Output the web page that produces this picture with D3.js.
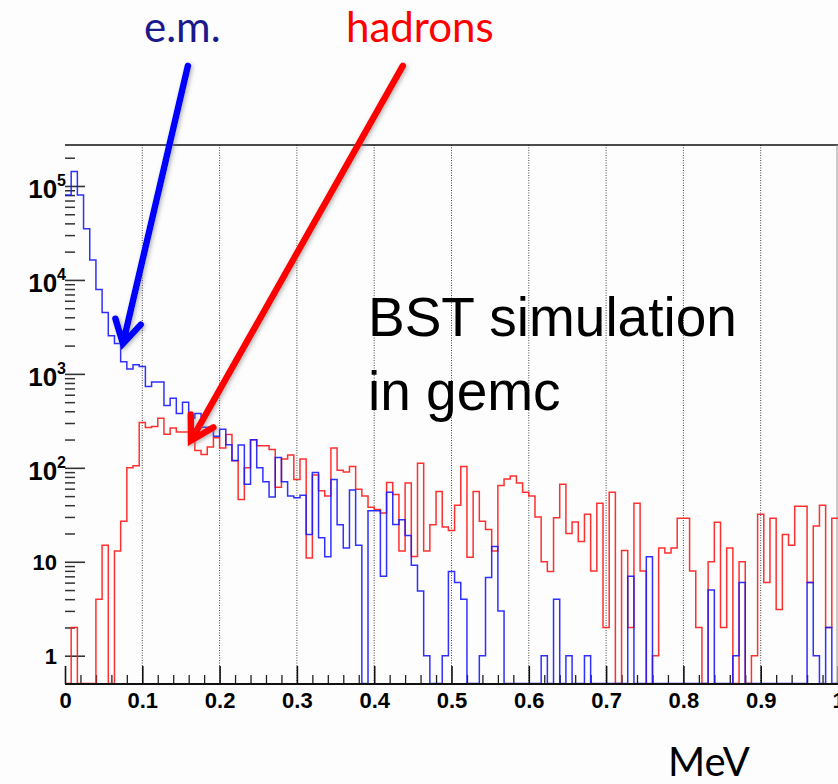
<!DOCTYPE html>
<html>
<head>
<meta charset="utf-8">
<script src="https://cdn.jsdelivr.net/npm/d3@7"></script>
<style>
  html, body { margin: 0; padding: 0; background: #fcfdfc; }
  svg { display: block; }
</style>
</head>
<body>
<div id="chart"></div>
<script>
// Energy deposit histograms, bins of 0.008 MeV starting at 0
var BIN_WIDTH = 0.008;

// e.m. (blue) counts per bin
var emCounts = [
    80000, 143000, 80000, 35000, 16300, 7900, 4500, 2550, 2100, 1350,
    1130, 1250, 1200, 735, 820, 820, 462, 550, 379, 499,
    339, 379, 270, 270, 217, 258, 176, 120, 175, 67,
    199, 100, 71, 49, 129, 71, 50, 48, 51, 19.5,
    89, 18, 11.3, 75, 24.8, 14, 58, 15, 0, 35,
    35, 7, 55, 25, 28, 19, 9.2, 4.9, 1, 0,
    0, 1, 7.9, 6, 4, 0, 0, 1, 6.8, 14.5,
    3, 0, 0, 0, 0, 0, 0, 1, 0, 4,
    0, 1, 0, 0, 1, 0, 0, 0, 0, 0,
    0, 7, 0, 0, 11.3, 0, 0, 0, 0, 0,
    0, 0, 0, 0, 5, 0, 0, 0, 1, 6,
    0, 0, 0, 0, 0, 0, 0, 0, 0, 0,
    6, 1, 0, 2, 0
];

// hadron (red) counts per bin
var hadronCounts = [
    0, 2, 0, 0, 0, 4, 15, 0, 13, 27,
    100, 105, 303, 268, 275, 337, 228, 265, 240, 240,
    196, 153, 139, 167, 209, 163, 226, 119, 46, 100,
    199, 172, 172, 157, 62, 124, 137, 75, 124, 11,
    84, 57, 50, 163, 94, 90, 103, 59, 50, 38,
    36, 33, 70, 52, 13, 69, 11.4, 112, 13, 24.8,
    56, 23.5, 21.5, 40, 103, 11.2, 56, 27, 22, 13,
    65, 76, 82, 69, 55, 50, 30, 10, 7.9, 29.5,
    67, 20, 26.5, 16.4, 32, 8, 42, 2, 55, 0,
    13.2, 2, 42, 8, 0, 1, 14, 12.4, 14, 29,
    29, 8, 2, 0, 10, 26.3, 2, 14, 0, 10,
    0, 1, 32, 6, 29, 3.1, 19.5, 15, 39, 39,
    6, 24, 40, 2, 29
];

var xTickValues = [0, 0.1, 0.2, 0.3, 0.4, 0.5, 0.6, 0.7, 0.8, 0.9, 1];
var xTickLabels = ['0', '0.1', '0.2', '0.3', '0.4', '0.5', '0.6', '0.7', '0.8', '0.9', '1'];
var xGridValues = [0.1, 0.2, 0.3, 0.4, 0.5, 0.6, 0.7, 0.8, 0.9];

var yDecades = [1, 10, 100, 1000, 10000, 100000];
var yBaseLabels = ['1', '10', '10', '10', '10', '10'];
var yExpLabels = ['', '', '2', '3', '4', '5'];

// arrow annotations, in data units (tail above the frame)
var arrowList = [
    {color: '#0000ff', tail: [0.159, 1.9e6], tip: [0.075, 2100]},
    {color: '#ff0000', tail: [0.437, 1.9e6], tip: [0.163, 195]}
];

var W = 838, H = 784;
var margin = {top: 145, right: 0, bottom: 100, left: 65};
var plotRight = 838, plotBottom = 684;

var svg = d3.select('#chart').append('svg')
    .attr('width', W)
    .attr('height', H)
    .style('background', '#fcfdfc');

var defs = svg.append('defs');
defs.append('clipPath').attr('id', 'plotClip')
    .append('rect')
    .attr('x', margin.left).attr('y', 0)
    .attr('width', plotRight - margin.left).attr('height', plotBottom + 2);

var shadow = defs.append('filter').attr('id', 'arrowShadow')
    .attr('x', '-30%').attr('y', '-30%').attr('width', '160%').attr('height', '160%');
shadow.append('feDropShadow')
    .attr('dx', 1.5).attr('dy', 1.5)
    .attr('stdDeviation', 2)
    .attr('flood-color', '#777')
    .attr('flood-opacity', 0.55);

var x = d3.scaleLinear().domain([0, 1]).range([margin.left, plotRight]);
var y = d3.scaleLog().domain([0.5, 2.73e5]).range([plotBottom, margin.top]);

// minor ticks
var xMinor = d3.range(0, 1.0001, 0.02).filter(function (v) {
    return Math.abs(v * 10 - Math.round(v * 10)) > 1e-6;
});
var yMinor = [];
yDecades.forEach(function (dec) {
    for (var m = 2; m <= 9; m++) { if (dec * m < 2.73e5) yMinor.push(dec * m); }
});

// dotted grid
svg.append('g').selectAll('line')
    .data(xGridValues).enter().append('line')
    .attr('x1', function (v) { return x(v); })
    .attr('x2', function (v) { return x(v); })
    .attr('y1', margin.top).attr('y2', plotBottom)
    .attr('stroke', '#444')
    .attr('stroke-width', 1)
    .attr('stroke-dasharray', '1,1.5');

// frame: top line and faint right edge
svg.append('line')
    .attr('x1', margin.left).attr('x2', plotRight)
    .attr('y1', margin.top).attr('y2', margin.top)
    .attr('stroke', '#111').attr('stroke-width', 1.6);
svg.append('line')
    .attr('x1', plotRight - 1).attr('x2', plotRight - 1)
    .attr('y1', margin.top).attr('y2', plotBottom)
    .attr('stroke', '#999').attr('stroke-width', 1);

// x axis (ticks pointing into the plot)
var xAxis = d3.axisBottom(x)
    .tickValues(xTickValues)
    .tickSize(-18)
    .tickPadding(8)
    .tickFormat(function (v, i) { return xTickLabels[i]; });

var gx = svg.append('g')
    .attr('transform', 'translate(0,' + plotBottom + ')')
    .call(xAxis);
gx.select('.domain').remove();
gx.selectAll('.tick line').attr('stroke', '#111').attr('stroke-width', 1.6);
gx.selectAll('.tick text')
    .attr('fill', '#000')
    .style('font-family', '"Liberation Sans", Arial, sans-serif')
    .style('font-weight', 'bold')
    .style('font-size', '22px');

var gxm = svg.append('g')
    .attr('transform', 'translate(0,' + plotBottom + ')')
    .call(d3.axisBottom(x).tickValues(xMinor).tickSize(-9).tickFormat(''));
gxm.select('.domain').remove();
gxm.selectAll('.tick line').attr('stroke', '#222').attr('stroke-width', 1.3);

// y axis ticks (no axis line)
var gy = svg.append('g')
    .attr('transform', 'translate(' + margin.left + ',0)')
    .call(d3.axisLeft(y).tickValues(yDecades).tickSize(-20).tickFormat(''));
gy.select('.domain').remove();
gy.selectAll('.tick line').attr('stroke', '#333').attr('stroke-width', 1.6);

var gym = svg.append('g')
    .attr('transform', 'translate(' + margin.left + ',0)')
    .call(d3.axisLeft(y).tickValues(yMinor).tickSize(-10).tickFormat(''));
gym.select('.domain').remove();
gym.selectAll('.tick line').attr('stroke', '#333').attr('stroke-width', 1.5);

// y labels: 1, 10, 10^2 ...
var yLab = svg.append('g')
    .style('font-family', '"Liberation Sans", Arial, sans-serif')
    .style('font-weight', 'bold');
yDecades.forEach(function (dec, i) {
    var t = yLab.append('text')
        .attr('x', yExpLabels[i] ? 66 : 57)
        .attr('y', y(dec) + (yExpLabels[i] ? 12 : 8))
        .attr('text-anchor', 'end')
        .attr('fill', '#000');
    t.append('tspan')
        .style('font-size', yExpLabels[i] ? '26px' : '22px')
        .text(yBaseLabels[i]);
    if (yExpLabels[i]) {
        t.append('tspan')
            .attr('dy', -12)
            .style('font-size', '16px')
            .text(yExpLabels[i]);
    }
});

// histogram step path; empty bins sit on the bottom axis
function stepPoints (counts) {
    var pts = [];
    counts.forEach(function (v, i) {
        var yy = v > 0 ? y(v) : plotBottom - 0.5;
        pts.push([x(i * BIN_WIDTH), yy]);
        pts.push([x((i + 1) * BIN_WIDTH), yy]);
    });
    return pts;
}

var line = d3.line();
var hists = svg.append('g').attr('clip-path', 'url(#plotClip)');

hists.append('path')
    .attr('d', line(stepPoints(hadronCounts)))
    .attr('fill', 'none')
    .attr('stroke', '#ff1a1a')
    .attr('stroke-width', 1.5)
    .attr('stroke-opacity', 0.9);

hists.append('path')
    .attr('d', line(stepPoints(emCounts)))
    .attr('fill', 'none')
    .attr('stroke', '#1a1aff')
    .attr('stroke-width', 1.5)
    .attr('stroke-opacity', 0.9);

// bottom axis line on top
svg.append('line')
    .attr('x1', margin.left).attr('x2', plotRight)
    .attr('y1', plotBottom).attr('y2', plotBottom)
    .attr('stroke', '#111').attr('stroke-width', 2.2);

// arrows with open heads
function drawArrow (a) {
    var x0 = x(a.tail[0]), y0 = y(a.tail[1]);
    var x1 = x(a.tip[0]), y1 = y(a.tip[1]);
    var ang = Math.atan2(y0 - y1, x0 - x1);
    var len = 26, spread = Math.PI / 6;
    var g = svg.append('g').attr('filter', 'url(#arrowShadow)');
    g.append('path')
        .attr('d', 'M' + x0 + ',' + y0 + 'L' + x1 + ',' + y1 +
            'M' + (x1 + len * Math.cos(ang - spread)) + ',' + (y1 + len * Math.sin(ang - spread)) +
            'L' + x1 + ',' + y1 +
            'L' + (x1 + len * Math.cos(ang + spread)) + ',' + (y1 + len * Math.sin(ang + spread)))
        .attr('fill', 'none')
        .attr('stroke', a.color)
        .attr('stroke-width', 6.5)
        .attr('stroke-linecap', 'round')
        .attr('stroke-linejoin', 'miter');
}
arrowList.forEach(drawArrow);

// annotation texts
svg.append('text')
    .attr('x', 144).attr('y', 42)
    .style('font-family', 'Lato, "Open Sans", sans-serif')
    .style('font-size', '42px')
    .attr('fill', '#1a1a8c')
    .text('e.m.');

svg.append('text')
    .attr('x', 346).attr('y', 42)
    .style('font-family', 'Lato, "Open Sans", sans-serif')
    .style('font-size', '42px')
    .attr('fill', '#ff0000')
    .text('hadrons');

svg.append('text')
    .attr('x', 368).attr('y', 336)
    .style('font-family', '"Liberation Sans", Arial, sans-serif')
    .style('font-size', '55px')
    .attr('fill', '#000')
    .text('BST simulation');

svg.append('text')
    .attr('x', 368).attr('y', 410)
    .style('font-family', '"Liberation Sans", Arial, sans-serif')
    .style('font-size', '55px')
    .attr('fill', '#000')
    .text('in gemc');

svg.append('text')
    .attr('x', 668).attr('y', 776)
    .style('font-family', 'Lato, "Open Sans", sans-serif')
    .style('font-size', '40px')
    .attr('fill', '#000')
    .text('MeV');
</script>
</body>
</html>
